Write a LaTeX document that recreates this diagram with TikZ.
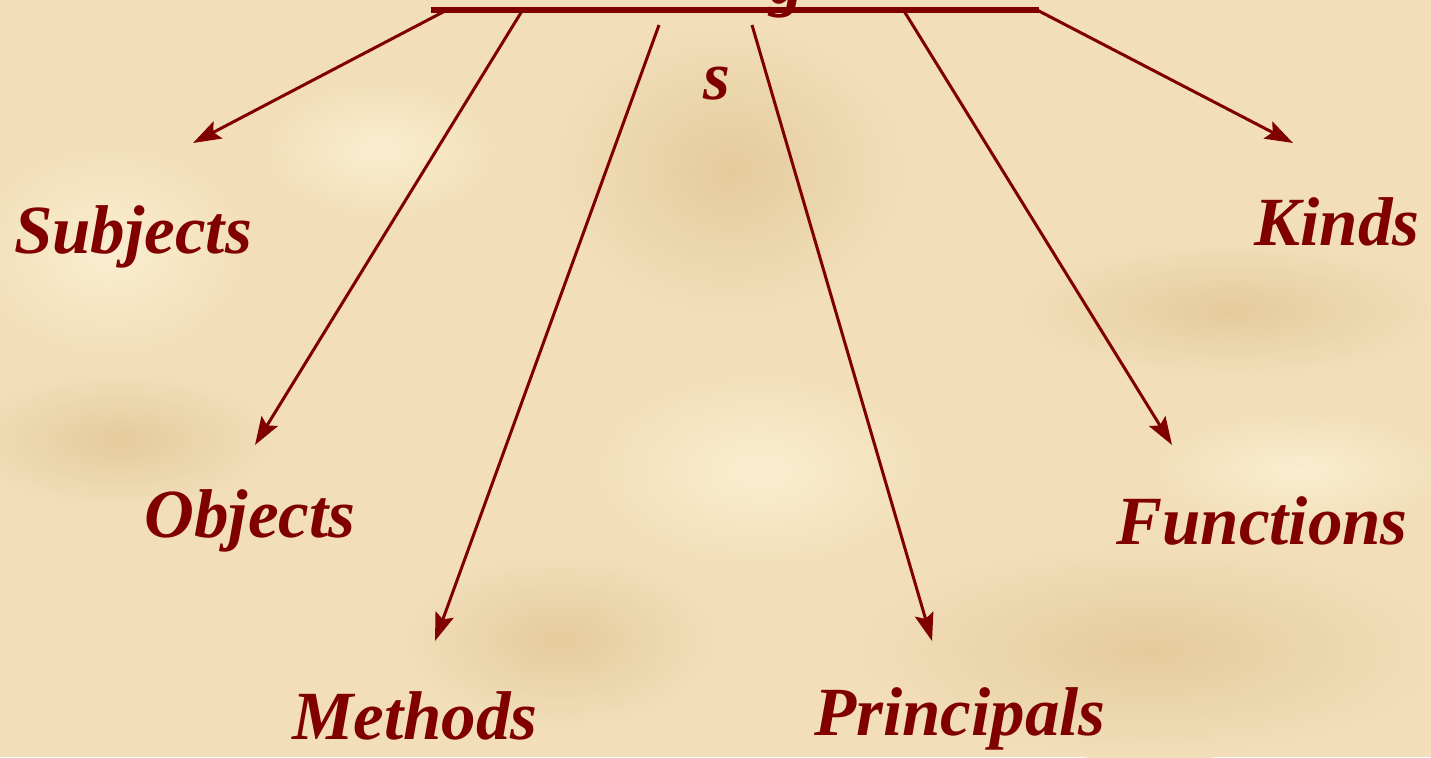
\documentclass[tikz,border=0pt]{standalone}
\usepackage{fontspec}
\setmainfont{Liberation Serif}
\usetikzlibrary{arrows.meta}
\definecolor{ink}{HTML}{800000}
\definecolor{paper}{HTML}{F2DFB9}
\definecolor{paperdark}{HTML}{E4CB9C}
\definecolor{paperlight}{HTML}{FAEDD0}
\tikzset{
  lbl/.style={text=ink, font=\fontsize{69}{76}\selectfont\bfseries\itshape, inner sep=0pt},
  arr/.style={draw=ink, line width=3pt, -{Stealth[length=28pt,width=19pt,inset=5pt]}},
  bar/.style={draw=ink, line width=6pt},
  blobdark/.style={inner color=paperdark, outer color=paper},
  bloblight/.style={inner color=paperlight, outer color=paper},
}
\begin{document}
\begin{tikzpicture}[x=1pt,y=-1pt]
\useasboundingbox (0,0) rectangle (1431,757);
\clip (0,0) rectangle (1431,757);
\fill[paper] (0,0) rectangle (1431,757);
% mottled parchment patches
\shade[blobdark] (730,170) ellipse [x radius=180, y radius=150];
\shade[blobdark] (120,440) ellipse [x radius=160, y radius=70];
\shade[blobdark] (1150,650) ellipse [x radius=300, y radius=110];
\shade[blobdark] (1230,310) ellipse [x radius=220, y radius=70];
\shade[blobdark] (560,640) ellipse [x radius=160, y radius=90];
\shade[bloblight] (110,250) ellipse [x radius=140, y radius=110];
\shade[bloblight] (760,470) ellipse [x radius=170, y radius=100];
\shade[bloblight] (1300,470) ellipse [x radius=150, y radius=60];
\shade[bloblight] (380,150) ellipse [x radius=120, y radius=70];
% title remnants
\node[lbl, anchor=base] (g) at (787,4) {g};
\node[lbl] (s) at (717,84) {s};
\coordinate (bl) at (431,10);
\coordinate (br) at (1039,10);
\draw[bar] (bl) -- (br);
% start points on the title
\coordinate (s1) at (445,11);
\coordinate (s2) at (522,11);
\coordinate (s3) at (659,25);
\coordinate (s4) at (752,25);
\coordinate (s5) at (904,11);
\coordinate (s6) at (1037,10);
% arrow ends
\coordinate (e1) at (193,143);
\coordinate (e2) at (255,445);
\coordinate (e3) at (435,641);
\coordinate (e4) at (932,641);
\coordinate (e5) at (1172,445);
\coordinate (e6) at (1293,143);
\draw[arr] (s1) -- (e1);
\draw[arr] (s2) -- (e2);
\draw[arr] (s3) -- (e3);
\draw[arr] (s4) -- (e4);
\draw[arr] (s5) -- (e5);
\draw[arr] (s6) -- (e6);
% labels
\node[lbl] (subjects) at (133,237) {Subjects};
\node[lbl] (objects) at (250,521) {Objects};
\node[lbl] (methods) at (415,716) {Methods};
\node[lbl] (principals) at (960,719) {Principals};
\node[lbl] (functions) at (1262,521) {Functions};
\node[lbl] (kinds) at (1337,222) {Kinds};
\end{tikzpicture}
\end{document}
